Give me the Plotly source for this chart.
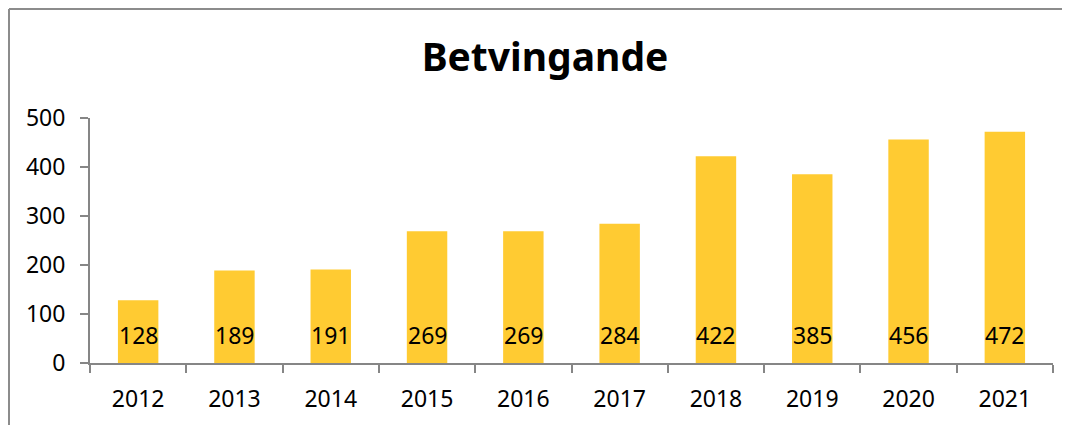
import plotly.graph_objects as go

years = ["2012", "2013", "2014", "2015", "2016", "2017", "2018", "2019", "2020", "2021"]
values = [128, 189, 191, 269, 269, 284, 422, 385, 456, 472]
y_ticks = [0, 100, 200, 300, 400, 500]
title_text = "Betvingande"

BAR_COLOR = "#FFCB32"
AXIS_COLOR = "#868686"
FONT = "Noto Sans"
FS = 23

fig = go.Figure()
fig.add_trace(go.Bar(
    x=years, y=values,
    marker=dict(color=BAR_COLOR, line=dict(width=0)),
    hoverinfo="x+y",
))

for i, v in enumerate(values):
    fig.add_annotation(
        x=i, y=0, text=str(v), showarrow=False,
        yanchor="middle", xanchor="center", yshift=28,
        font=dict(family=FONT, size=FS, color="#000000"),
    )

# page has an 8px body offset
OFF = 8
W, H = 1062, 417
ml, mt = 90 - OFF, 118 - OFF
mr = W - (1053 - OFF)
mb = H - (363 - OFF)
pw = W - ml - mr
ph = H - mt - mb

def px_x(p):
    return (p - ml) / pw

def px_y(p):
    return (H - mb - p) / ph

border = dict(color="#8C8C8C", width=2)
# top edge
fig.add_shape(type="line", xref="paper", yref="paper",
              x0=px_x(1), x1=px_x(W + 5), y0=px_y(1), y1=px_y(1), line=border)
# left edge
fig.add_shape(type="line", xref="paper", yref="paper",
              x0=px_x(1), x1=px_x(1), y0=px_y(1), y1=px_y(H + 5), line=border)

fig.update_layout(
    width=W, height=H,
    margin=dict(l=ml, r=mr, t=mt, b=mb, autoexpand=False),
    paper_bgcolor="white", plot_bgcolor="white",
    bargap=0.58,
    showlegend=False,
    title=dict(
        text=f"<b>{title_text}</b>", x=(545 - OFF) / W, xanchor="center",
        y=1 - (57 - OFF) / H, yanchor="middle",
        font=dict(family=FONT, size=39, color="#000000"),
    ),
    font=dict(family=FONT, size=FS, color="#000000"),
)

fig.update_xaxes(
    type="category", range=[-0.5, len(years) - 0.5],
    showline=True, linecolor=AXIS_COLOR, linewidth=2,
    ticks="outside", tickson="boundaries", ticklen=8, tickwidth=2, tickcolor=AXIS_COLOR,
    showgrid=False, zeroline=False, tickangle=0, ticklabelstandoff=14,
    tickfont=dict(family=FONT, size=FS, color="#000000"),
)
fig.update_yaxes(
    range=[0, 500], tickvals=y_ticks,
    showline=True, linecolor=AXIS_COLOR, linewidth=2,
    ticks="outside", ticklen=8, tickwidth=2, tickcolor=AXIS_COLOR,
    showgrid=False, zeroline=False, ticklabelstandoff=10,
    tickfont=dict(family=FONT, size=FS, color="#000000"),
)

fig.write_html("out.html")
